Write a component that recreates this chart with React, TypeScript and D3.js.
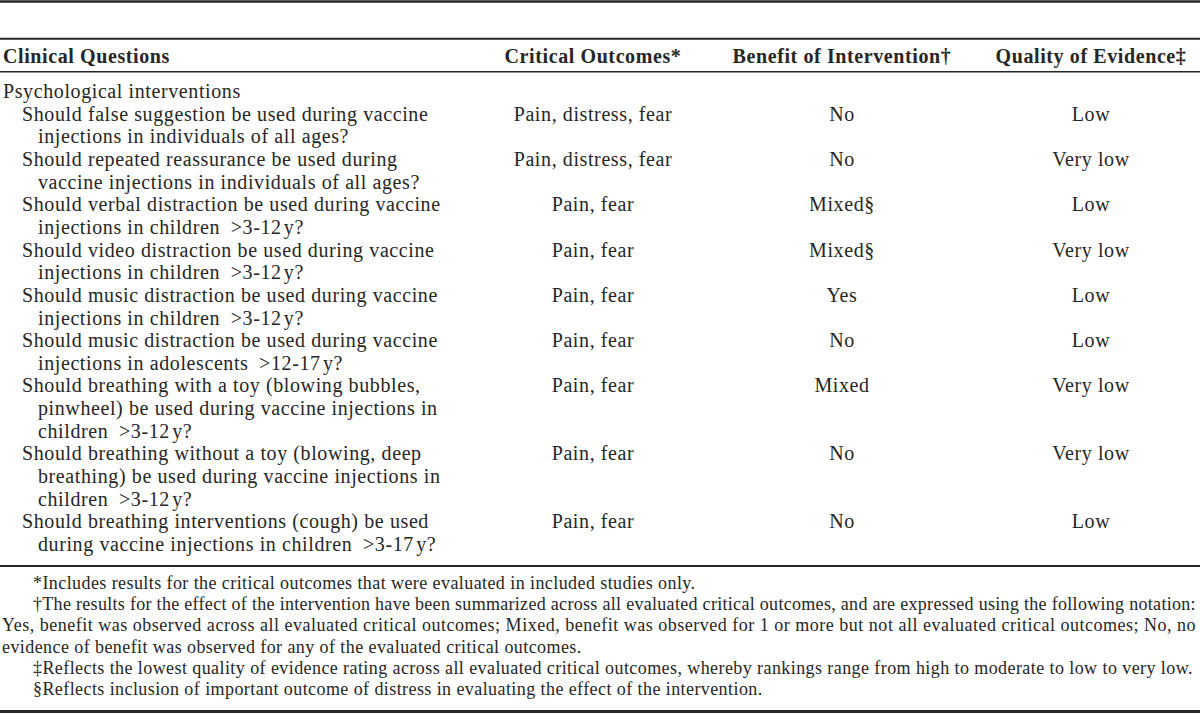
// @ts-nocheck
import * as d3 from "d3";
import React from "react";

const headers = ["Clinical Questions", "Critical Outcomes*", "Benefit of Intervention\u2020", "Quality of Evidence\u2021"];
const section = "Psychological interventions";
const questions = [
  ["Should false suggestion be used during vaccine", "injections in individuals of all ages?"],
  ["Should repeated reassurance be used during", "vaccine injections in individuals of all ages?"],
  ["Should verbal distraction be used during vaccine", "injections in children\u2002>3-12\u200Ay?"],
  ["Should video distraction be used during vaccine", "injections in children\u2002>3-12\u200Ay?"],
  ["Should music distraction be used during vaccine", "injections in children\u2002>3-12\u200Ay?"],
  ["Should music distraction be used during vaccine", "injections in adolescents\u2002>12-17\u200Ay?"],
  ["Should breathing with a toy (blowing bubbles,", "pinwheel) be used during vaccine injections in", "children\u2002>3-12\u200Ay?"],
  ["Should breathing without a toy (blowing, deep", "breathing) be used during vaccine injections in", "children\u2002>3-12\u200Ay?"],
  ["Should breathing interventions (cough) be used", "during vaccine injections in children\u2002>3-17\u200Ay?"],
];
const outcomes = ["Pain, distress, fear", "Pain, distress, fear", "Pain, fear", "Pain, fear", "Pain, fear", "Pain, fear", "Pain, fear", "Pain, fear", "Pain, fear"];
const benefits = ["No", "No", "Mixed\u00a7", "Mixed\u00a7", "Yes", "No", "Mixed", "No", "No"];
const quality = ["Low", "Very low", "Low", "Very low", "Low", "Low", "Very low", "Very low", "Low"];
const footnotes = [
  { text: "*Includes results for the critical outcomes that were evaluated in included studies only.", indent: true, justify: false },
  { text: "\u2020The results for the effect of the intervention have been summarized across all evaluated critical outcomes, and are expressed using the following notation:", indent: true, justify: true },
  { text: "Yes, benefit was observed across all evaluated critical outcomes; Mixed, benefit was observed for 1 or more but not all evaluated critical outcomes; No, no", indent: false, justify: true },
  { text: "evidence of benefit was observed for any of the evaluated critical outcomes.", indent: false, justify: false },
  { text: "\u2021Reflects the lowest quality of evidence rating across all evaluated critical outcomes, whereby rankings range from high to moderate to low to very low.", indent: true, justify: false },
  { text: "\u00a7Reflects inclusion of important outcome of distress in evaluating the effect of the intervention.", indent: true, justify: false },
];

const W = 1200;
const H = 714;
const ink = "#262626";
const font = "'Liberation Serif', 'Times New Roman', serif";

export default function App() {
  // line index -> baseline; index 0 is the section label
  const starts = [];
  let n = 1;
  questions.forEach((q) => {
    starts.push(n);
    n += q.length;
  });
  const y = d3.scaleLinear().domain([0, 20]).range([98, 98 + 20 * 22.65]);
  const col = d3.scaleOrdinal().domain(["outcomes", "benefit", "quality"]).range([593, 842, 1091]);
  const fy = d3.scaleLinear().domain([0, 5]).range([589, 695]);

  const rules = [
    { y: 1.5, w: 2.6 },
    { y: 38.8, w: 2 },
    { y: 71.8, w: 1.5 },
    { y: 566, w: 2 },
    { y: 711.5, w: 3 },
  ];

  const body = { fontFamily: font, fontSize: 20, fill: ink, letterSpacing: 0.6 };

  return (
    <svg width={W} height={H} style={{ position: "absolute", left: 0, top: 0, background: "#fff" }}>
      {rules.map((r, i) => (
        <line key={i} x1={0} x2={W} y1={r.y} y2={r.y} stroke={ink} strokeWidth={r.w} />
      ))}
      <g style={{ fontFamily: font, fontSize: 20, fontWeight: "bold", fill: ink, letterSpacing: 0.6 }}>
        <text x={3} y={63}>{headers[0]}</text>
        <text x={col("outcomes")} y={63} textAnchor="middle">{headers[1]}</text>
        <text x={col("benefit")} y={63} textAnchor="middle">{headers[2]}</text>
        <text x={col("quality")} y={63} textAnchor="middle">{headers[3]}</text>
      </g>
      <g style={body}>
        <text x={3} y={y(0)}>{section}</text>
        {questions.map((q, i) => (
          <g key={i}>
            {q.map((line, j) => (
              <text key={j} x={j === 0 ? 22 : 38} y={y(starts[i] + j)} style={{ whiteSpace: "pre" }}>
                {line}
              </text>
            ))}
            <text x={col("outcomes")} y={y(starts[i])} textAnchor="middle">{outcomes[i]}</text>
            <text x={col("benefit")} y={y(starts[i])} textAnchor="middle">{benefits[i]}</text>
            <text x={col("quality")} y={y(starts[i])} textAnchor="middle">{quality[i]}</text>
          </g>
        ))}
      </g>
      <g style={{ fontFamily: font, fontSize: 18, fill: ink, letterSpacing: 0.42 }}>
        {footnotes.map((f, i) => {
          const x0 = f.indent ? 33 : 2;
          return (
            <text
              key={i}
              x={x0}
              y={fy(i)}
              {...(f.justify ? { textLength: 1196 - x0, lengthAdjust: "spacing" } : {})}
            >
              {f.text}
            </text>
          );
        })}
      </g>
    </svg>
  );
}
